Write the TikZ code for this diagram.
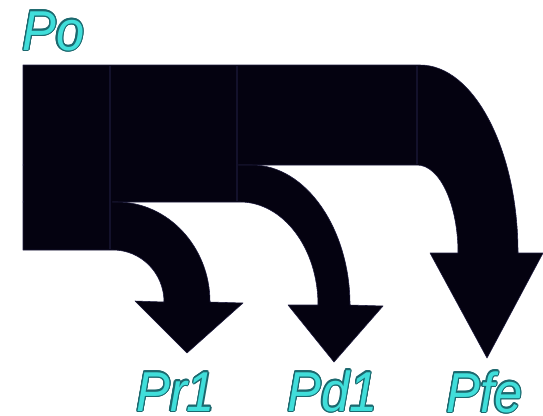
\documentclass[tikz,border=0pt]{standalone}
\usepackage{fontspec}
\usepackage{graphicx}
\usepackage[copies]{contour}
\setmainfont{Liberation Sans}
\definecolor{flowblack}{RGB}{4,2,16}
\definecolor{flowedge}{RGB}{30,28,62}
\definecolor{lblcyan}{RGB}{64,222,218}
\definecolor{lblteal}{RGB}{28,104,110}
\contourlength{0.9pt}
\newcommand{\flowlabel}[1]{\scalebox{0.9}[1]{\contour{lblteal}{\textcolor{lblcyan}{\itshape #1}}}}
\usetikzlibrary{positioning}

\begin{document}
\begin{tikzpicture}[x=0.025cm, y=-0.025cm,
  band/.style={fill=flowblack, draw=flowedge, line width=0.4pt, line join=round},
  seam/.style={draw=flowedge, line width=0.8pt, opacity=0.6},
  lbl/.style={inner sep=0pt, anchor=base west, font=\fontsize{40}{40}\selectfont}
]
\useasboundingbox (0,0) rectangle (543,415);

% Pfe band
\path[band] (23,65) -- (420,65) .. controls (474,65) and (518,150) .. (518,253)
  -- (543,253) -- (487,358) -- (430,253) -- (458,253)
  .. controls (458,205) and (440,165) .. (417,165) -- (23,165) -- cycle;
% Pd1 band
\path[band] (23,165) -- (252,165) .. controls (306,165) and (350,229) .. (350,305)
  -- (383,306) -- (334,362) -- (288,305) -- (318,305)
  .. controls (318,248) and (283,202) .. (240,202) -- (23,202) -- cycle;
% Pr1 band
\path[band] (23,202) -- (117,202) .. controls (168,202) and (210,247) .. (210,302)
  -- (243,303) -- (187,353) -- (135,301) -- (164,302)
  .. controls (164,273) and (141,250) .. (113,250) -- (23,250) -- cycle;
% hide the joins inside the block
\fill[flowblack] (24,66) rectangle (418,164) (24,66) rectangle (238,201) (24,66) rectangle (112,249);

% Seams
\draw[seam] (110,66) -- (110,249);
\draw[seam] (237,66) -- (237,201);
\draw[seam] (417,66) -- (417,164);

% Labels
\node[lbl] (po)  at (22,50)   {\flowlabel{Po}};
\node[lbl] (pr1) at (136,411) {\flowlabel{Pr1}};
\node[lbl] (pd1) at (287,411) {\flowlabel{Pd1}};
\node[lbl] (pfe) at (446,412) {\flowlabel{Pfe}};
\end{tikzpicture}
\end{document}
